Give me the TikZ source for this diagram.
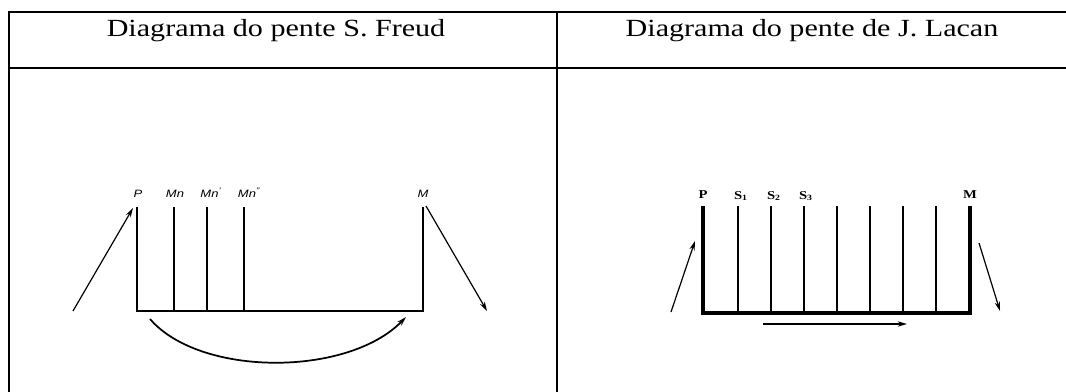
\documentclass[tikz,border=0pt]{standalone}
\usepackage{fontspec}
\usepackage{graphicx}
\setmainfont{Liberation Serif}
\setsansfont{Liberation Sans}
\usetikzlibrary{arrows.meta}
\newcommand{\hstretch}[1]{\scalebox{1.22}[1]{#1}}
\begin{document}
\begin{tikzpicture}[x=0.75pt,y=-0.75pt,
  frame/.style={line width=1.4pt},
  head/.style={font=\fontsize{18.5}{20}\selectfont,inner sep=0pt,anchor=base},
  flab/.style={font=\sffamily\itshape\fontsize{8}{9}\selectfont,inner sep=0pt},
  llab/.style={font=\bfseries\fontsize{9}{10}\selectfont,inner sep=0pt},
  fline/.style={line width=1.3pt},
  fthin/.style={line width=0.9pt},
  lthick/.style={line width=3pt},
  lthin/.style={line width=0.8pt},
  arr/.style={line width=0.9pt,-{Stealth[length=7pt,width=4pt]}}
]
\useasboundingbox (0,0) rectangle (1066,392);
% table frame
\draw[frame] (1066,12) -- (9,12) -- (9,392);
\draw[frame] (9,68) -- (1066,68);
\draw[frame] (557,12) -- (557,392);
\node[head] (h1) at (276,37) {\hstretch{Diagrama do pente S. Freud}};
\node[head] (h2) at (812,37) {\hstretch{Diagrama do pente de J. Lacan}};

% ---------- Freud ----------
\coordinate (fPt) at (137,207); \coordinate (fPb) at (137,311);
\coordinate (fMt) at (423,207); \coordinate (fMb) at (423,311);
\draw[fline] (fPt) -- (fPb) -- (fMb) -- (fMt);
\foreach \x/\n in {174/a,207/b,244/c}{
  \coordinate (f\n t) at (\x,207); \coordinate (f\n b) at (\x,311);
}
\draw[fthin] (fat) -- (fab);
\draw[fline] (fbt) -- (fbb);
\draw[fline] (fct) -- (fcb);
\node[flab] (lP) at (138,194) {\hstretch{P}};
\node[flab] (lMn) at (175,194) {\hstretch{Mn}};
\node[flab] (lMn1) at (211,193) {\hstretch{Mn\textsuperscript{'}}};
\node[flab] (lMn2) at (249,193) {\hstretch{Mn\textsuperscript{''}}};
\node[flab] (lM) at (423,194) {\hstretch{M}};
\coordinate (fa1) at (73,311); \coordinate (fa2) at (133,208);
\draw[arr] (fa1) -- (fa2);
\coordinate (fb1) at (426,206); \coordinate (fb2) at (487,311);
\draw[arr] (fb1) -- (fb2);
\coordinate (fc1) at (150,319); \coordinate (fc2) at (406,317);
\draw[arr,line width=1.3pt] (fc1) .. controls (200,377) and (348,377) .. (fc2);

% ---------- Lacan ----------
\coordinate (lPt) at (703,206); \coordinate (lPb) at (703,313);
\coordinate (lMt) at (970,206); \coordinate (lMb) at (970,313);
\draw[lthick] (lPt) -- (lPb) -- (lMb) -- (lMt);
\foreach \x/\n in {738/1,771/2,804/3,837/4,870/5,903/6,936/7}{
  \coordinate (ls\n t) at (\x,206); \coordinate (ls\n b) at (\x,313);
  \draw[lthin] (ls\n t) -- (ls\n b);
}
\node[llab] (tP) at (703,195) {\hstretch{P}};
\node[llab] (tS1) at (741,196) {\hstretch{S\textsubscript{1}}};
\node[llab] (tS2) at (774,196) {\hstretch{S\textsubscript{2}}};
\node[llab] (tS3) at (806,196) {\hstretch{S\textsubscript{3}}};
\node[llab] (tM) at (970,195) {\hstretch{M}};
\coordinate (la1) at (671,312); \coordinate (la2) at (695,241);
\draw[arr] (la1) -- (la2);
\coordinate (lb1) at (979,243); \coordinate (lb2) at (1000,311);
\draw[arr] (lb1) -- (lb2);
\coordinate (lc1) at (763,324); \coordinate (lc2) at (907,324);
\draw[arr,line width=1.1pt] (lc1) -- (lc2);
\end{tikzpicture}
\end{document}
